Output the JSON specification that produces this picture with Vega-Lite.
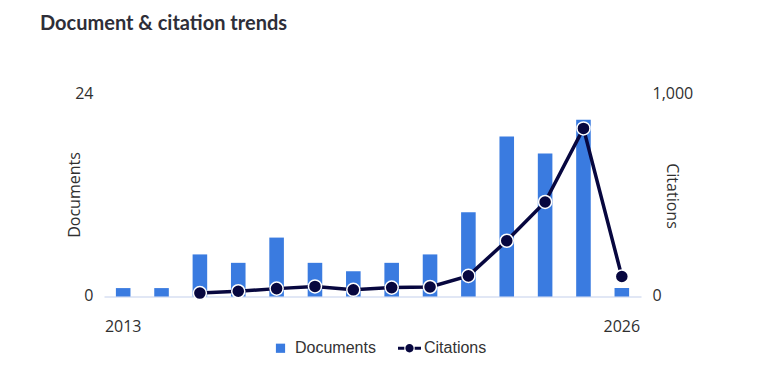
{
  "$schema": "https://vega.github.io/schema/vega-lite/v6.json",
  "autosize": {"type": "none"},
  "padding": {"left": 104, "top": 94.5, "right": 121, "bottom": 91.5},
  "width": 537,
  "height": 202,
  "background": "white",
  "title": {
    "text": "Document & citation trends",
    "anchor": "start",
    "frame": "group",
    "dx": -64,
    "offset": 35.5,
    "baseline": "alphabetic",
    "font": "Lato",
    "fontSize": 20,
    "fontWeight": "bold",
    "color": "#2e2e38"
  },
  "config": {
    "view": {"stroke": null},
    "axis": {"labelFont": "Open Sans", "labelFontSize": 16, "labelColor": "#2f2f2f", "titleFont": "Open Sans", "titleFontSize": 16, "titleFontWeight": "normal", "titleColor": "#2f2f2f", "grid": false, "ticks": false, "tickSize": 0}
  },
  "data": {
    "values": [
      {"year": 2013, "documents": 1, "citations": null},
      {"year": 2014, "documents": 1, "citations": null},
      {"year": 2015, "documents": 5, "citations": 17},
      {"year": 2016, "documents": 4, "citations": 26},
      {"year": 2017, "documents": 7, "citations": 39},
      {"year": 2018, "documents": 4, "citations": 50},
      {"year": 2019, "documents": 3, "citations": 33},
      {"year": 2020, "documents": 4, "citations": 44},
      {"year": 2021, "documents": 5, "citations": 47},
      {"year": 2022, "documents": 10, "citations": 102},
      {"year": 2023, "documents": 19, "citations": 276},
      {"year": 2024, "documents": 17, "citations": 468},
      {"year": 2025, "documents": 21, "citations": 832},
      {"year": 2026, "documents": 1, "citations": 99}
    ]
  },
  "encoding": {
    "x": {
      "field": "year",
      "type": "ordinal",
      "scale": {"paddingInner": 0.62, "paddingOuter": 0.31},
      "axis": {"title": null, "values": [2013, 2026], "labelAngle": 0, "labelPadding": 22, "domain": true, "domainColor": "#c3d0ec", "domainWidth": 1.2}
    }
  },
  "layer": [
    {
      "mark": {"type": "bar", "color": "#3a7be0"},
      "encoding": {
        "y": {
          "field": "documents",
          "type": "quantitative",
          "scale": {"domain": [0, 24], "nice": false},
          "axis": {"title": "Documents", "values": [0, 24], "domain": false, "labelPadding": 11, "labelOffset": -1.5, "titleAngle": -90, "titleX": -30, "titleY": 100, "titleBaseline": "middle", "titleAlign": "center"}
        },
        "color": {
          "datum": "Documents",
          "scale": {"domain": ["Documents", "Citations"], "range": ["#3a7be0", "#07073f"]},
          "legend": {
            "title": null,
            "orient": "none",
            "legendX": 165,
            "legendY": 242,
            "direction": "horizontal",
            "padding": 0,
            "columnPadding": 22,
            "labelOffset": 3,
            "labelFont": "Liberation Sans",
            "labelFontSize": 16,
            "labelColor": "#333333",
            "symbolSize": 529,
            "encode": {
              "symbols": {
                "update": {
                  "shape": {"signal": "datum.value === 'Documents' ? 'M-0.4,-0.4H0.4V0.4H-0.4Z' : 'M-1,-0.13H-0.45V0.13H-1Z M0.45,-0.13H1V0.13H0.45Z M-0.36,0A0.36,0.36 0 1,0 0.36,0A0.36,0.36 0 1,0 -0.36,0Z'"},
                  "fill": {"signal": "datum.value === 'Documents' ? '#3a7be0' : '#07073f'"},
                  "stroke": {"value": "transparent"},
                  "strokeWidth": {"value": 0},
                  "size": {"value": 529},
                  "opacity": {"value": 1}
                }
              }
            }
          }
        }
      }
    },
    {
      "transform": [{"filter": "datum.citations != null"}],
      "mark": {"type": "line", "strokeWidth": 3.5, "point": {"filled": true, "size": 170, "stroke": "white", "strokeWidth": 1.5}},
      "encoding": {
        "y": {
          "field": "citations",
          "type": "quantitative",
          "scale": {"domain": [0, 1000], "nice": false},
          "axis": {"title": "Citations", "orient": "right", "values": [0, 1000], "format": ",.0f", "domain": false, "labelPadding": 11, "labelOffset": -1.5, "titleAngle": 90, "titleX": 30, "titleY": 101, "titleBaseline": "middle", "titleAlign": "center"}
        },
        "color": {"datum": "Citations"}
      }
    }
  ],
  "resolve": {"scale": {"y": "independent"}}
}
